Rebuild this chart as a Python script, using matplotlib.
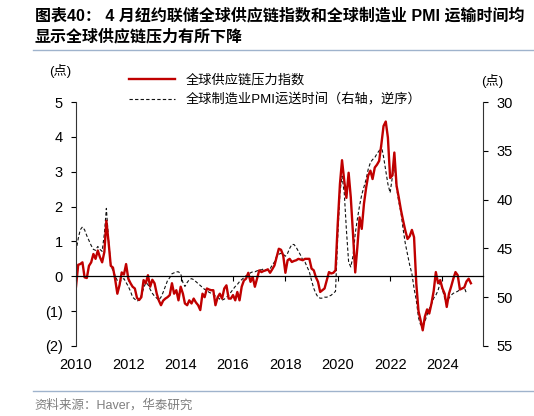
import pandas as pd
import matplotlib
matplotlib.use("Agg")
import matplotlib.pyplot as plt
import matplotlib.dates as mdates
from matplotlib.ticker import FuncFormatter

plt.rcParams['font.family'] = ['Liberation Sans', 'Noto Sans CJK SC', 'DejaVu Sans']

# 全球供应链压力指数（月度，2010-01 起，左轴）
gscpi = [
    -0.30, 0.33, 0.35, 0.40, -0.03, -0.05, 0.30, 0.40, 0.64, 0.50, 0.74, 0.55,   # 2010
    0.40, 0.70, 1.59, 0.97, 0.30, 0.25, -0.08, -0.50, -0.25, 0.11, 0.05, 0.35,   # 2011
    -0.07, -0.20, -0.30, -0.35, -0.62, -0.68, -0.60, -0.11, -0.20, 0.03, -0.30, -0.10,  # 2012
    -0.20, -0.50, -0.69, -0.83, -0.70, -0.64, -0.60, -0.54, -0.20, -0.50, -0.40, -0.69,  # 2013
    -0.30, -0.50, -0.78, -0.83, -0.69, -0.78, -0.64, -0.75, -0.83, -0.97, -0.50, -0.60,  # 2014
    -0.35, -0.38, -0.40, -0.40, -0.83, -0.60, -0.50, -0.64, -0.35, -0.26, -0.64, -0.64,  # 2015
    -0.54, -0.69, -0.45, -0.69, -0.30, -0.12, -0.07, 0.10, -0.16, -0.02, -0.30, -0.07,  # 2016
    0.17, 0.12, 0.15, 0.17, 0.20, 0.10, 0.20, 0.31, 0.55, 0.79, 0.76, 0.60,   # 2017
    0.10, 0.46, 0.50, 0.41, 0.44, 0.46, 0.50, 0.48, 0.46, 0.50, 0.50, 0.50,   # 2018
    0.22, 0.17, -0.02, -0.16, -0.45, -0.40, -0.35, -0.11, 0.12, 0.08, 0.10, 0.17,  # 2019
    1.50, 2.65, 3.33, 2.74, 2.25, 2.97, 2.27, 1.22, 0.11, 0.84, 1.69, 1.36,   # 2020
    2.08, 2.55, 2.89, 3.03, 2.79, 3.12, 3.20, 3.31, 3.79, 4.31, 4.44, 3.98,   # 2021
    2.82, 2.89, 3.55, 2.60, 2.27, 1.90, 1.60, 1.31, 1.07, 1.15, 1.33, 1.12,   # 2022
    -0.20, -1.00, -1.25, -1.55, -1.16, -0.95, -1.07, -0.78, -0.42, 0.12, -0.20, -0.11,  # 2023
    -0.35, -0.50, -0.88, -0.50, -0.30, -0.07, 0.12, 0.03, -0.38, -0.35, -0.32, -0.15,  # 2024
    -0.07, -0.20,                                                              # 2025
]

# 全球制造业PMI运送时间（月度，2010-01 起，右轴逆序）
pmi_delivery = [
    45.3, 44.0, 43.1, 42.8, 43.1, 43.7, 44.2, 44.7, 45.1, 45.2, 44.8, 45.1,   # 2010
    45.3, 43.5, 40.9, 44.2, 46.7, 47.3, 47.8, 48.3, 48.5, 48.2, 48.1, 48.5,   # 2011
    48.9, 49.4, 50.0, 50.2, 50.4, 50.3, 49.8, 49.1, 48.5, 48.7, 49.2, 49.6,   # 2012
    49.9, 50.1, 50.3, 50.0, 49.5, 48.9, 48.3, 48.0, 47.6, 47.5, 47.4, 47.4,   # 2013
    47.6, 48.5, 48.9, 48.5, 48.2, 48.1, 48.2, 48.4, 48.6, 48.8, 49.0, 49.2,   # 2014
    49.3, 49.5, 49.6, 49.7, 49.9, 50.0, 50.2, 50.3, 50.2, 50.0, 49.8, 49.5,   # 2015
    49.2, 48.9, 48.7, 48.4, 48.2, 48.0, 47.8, 47.7, 47.5, 47.4, 47.4, 47.3,   # 2016
    47.2, 47.2, 47.1, 47.2, 47.2, 47.1, 46.7, 46.4, 45.8, 45.6, 45.5, 45.6,   # 2017
    45.8, 45.5, 45.0, 44.6, 44.6, 44.9, 45.3, 45.7, 46.2, 46.4, 46.9, 47.4,   # 2018
    48.3, 49.1, 49.6, 50.0, 50.1, 50.1, 50.0, 50.0, 49.9, 49.8, 49.6, 49.4,   # 2019
    43.8, 39.3, 37.6, 39.3, 43.1, 46.4, 46.9, 45.8, 43.5, 42.0, 40.6, 39.5,   # 2020
    38.7, 37.9, 36.9, 36.2, 35.9, 35.7, 35.3, 35.0, 34.5, 35.6, 37.0, 38.4,   # 2021
    39.3, 37.7, 36.4, 38.8, 40.2, 41.3, 43.0, 44.5, 45.6, 46.7, 47.6, 49.1,   # 2022
    50.3, 52.1, 52.8, 53.0, 52.5, 51.8, 51.2, 50.7, 50.1, 49.8, 49.3, 48.5,   # 2023
    49.2, 50.1, 50.6, 50.1, 49.8, 49.6, 49.5, 49.4, 49.2, 49.1, 49.0, 49.6,   # 2024
]

left_ticks = [-2, -1, 0, 1, 2, 3, 4, 5]
right_ticks = [30, 35, 40, 45, 50, 55]

dates_gscpi = pd.date_range("2010-01-01", periods=len(gscpi), freq="MS")
dates_pmi = pd.date_range("2010-01-01", periods=len(pmi_delivery), freq="MS")

fig = plt.figure(figsize=(5.34, 4.16), dpi=100)
ax = fig.add_axes([0.1423, 0.1683, 0.7622, 0.5865])
ax2 = ax.twinx()

line1, = ax.plot(dates_gscpi, gscpi, color="#c00000", lw=1.7, label="全球供应链压力指数")
line2, = ax2.plot(dates_pmi, pmi_delivery, color="#111111", lw=0.8, ls=(0, (3, 2)),
                  label="全球制造业PMI运送时间（右轴，逆序）")
ax.set_zorder(ax2.get_zorder() + 1)
ax.patch.set_visible(False)

# 左轴
ax.set_ylim(-2, 5)
ax.set_yticks(left_ticks)
ax.yaxis.set_major_formatter(FuncFormatter(lambda v, p: f"({abs(int(v))})" if v < 0 else f"{int(v)}"))
ax.set_xlim(pd.Timestamp("2010-01-01"), pd.Timestamp("2025-07-20"))
ax.xaxis.set_major_locator(mdates.YearLocator(2))
ax.spines["top"].set_visible(False)
ax.spines["right"].set_visible(False)
ax.spines["bottom"].set_position(("data", 0))
ax.spines["bottom"].set_linewidth(0.9)
ax.spines["left"].set_color("#333333")
ax.spines["left"].set_linewidth(0.8)
ax.tick_params(axis="x", direction="out", length=3.5, width=0.8, labelbottom=False)
ax.tick_params(axis="y", direction="out", length=3.5, width=0.8, pad=6, labelsize=10.5)

# 右轴（逆序）
ax2.set_ylim(55, 30)
ax2.set_yticks(right_ticks)
for s in ["top", "left", "bottom"]:
    ax2.spines[s].set_visible(False)
ax2.spines["right"].set_color("#333333")
ax2.spines["right"].set_linewidth(0.8)
ax2.tick_params(axis="y", direction="out", length=3.5, width=0.8, pad=6, labelsize=10.5)

# 年份标签放在底部
sec = ax.secondary_xaxis(0.0)
sec.xaxis.set_major_locator(mdates.YearLocator(2))
sec.xaxis.set_major_formatter(mdates.DateFormatter("%Y"))
sec.spines["bottom"].set_visible(False)
sec.tick_params(axis="x", length=0, pad=9, labelsize=10.5)

# 图例与单位
fig.legend(handles=[line1, line2], loc="upper left", bbox_to_anchor=(129 / 534, 1 - 74 / 416),
           frameon=False, fontsize=9.5, handlelength=3.5, handletextpad=0.8,
           borderpad=0, borderaxespad=0, labelspacing=0.5)
fig.text(60 / 534, 1 - 71 / 416, "(点)", ha="center", va="center", fontsize=9.5)
fig.text(492 / 534, 1 - 81 / 416, "(点)", ha="center", va="center", fontsize=9.5)

# 标题与来源
fig.text(35 / 534, 1 - 15 / 416, "图表40： 4 月纽约联储全球供应链指数和全球制造业 PMI 运输时间均",
         fontsize=11.5, fontweight="bold", va="center")
fig.text(35 / 534, 1 - 37 / 416, "显示全球供应链压力有所下降",
         fontsize=11.5, fontweight="bold", va="center")
fig.add_artist(plt.Line2D([33 / 534, 1], [1 - 49.5 / 416] * 2, color="#9fb3cc", lw=1))
fig.add_artist(plt.Line2D([33 / 534, 1], [1 - 391 / 416] * 2, color="#9fb3cc", lw=1))
fig.text(34 / 534, 1 - 405 / 416, "资料来源：Haver，华泰研究", color="#7f7f7f", fontsize=9, va="center")

fig.savefig("out.png", dpi=100)
